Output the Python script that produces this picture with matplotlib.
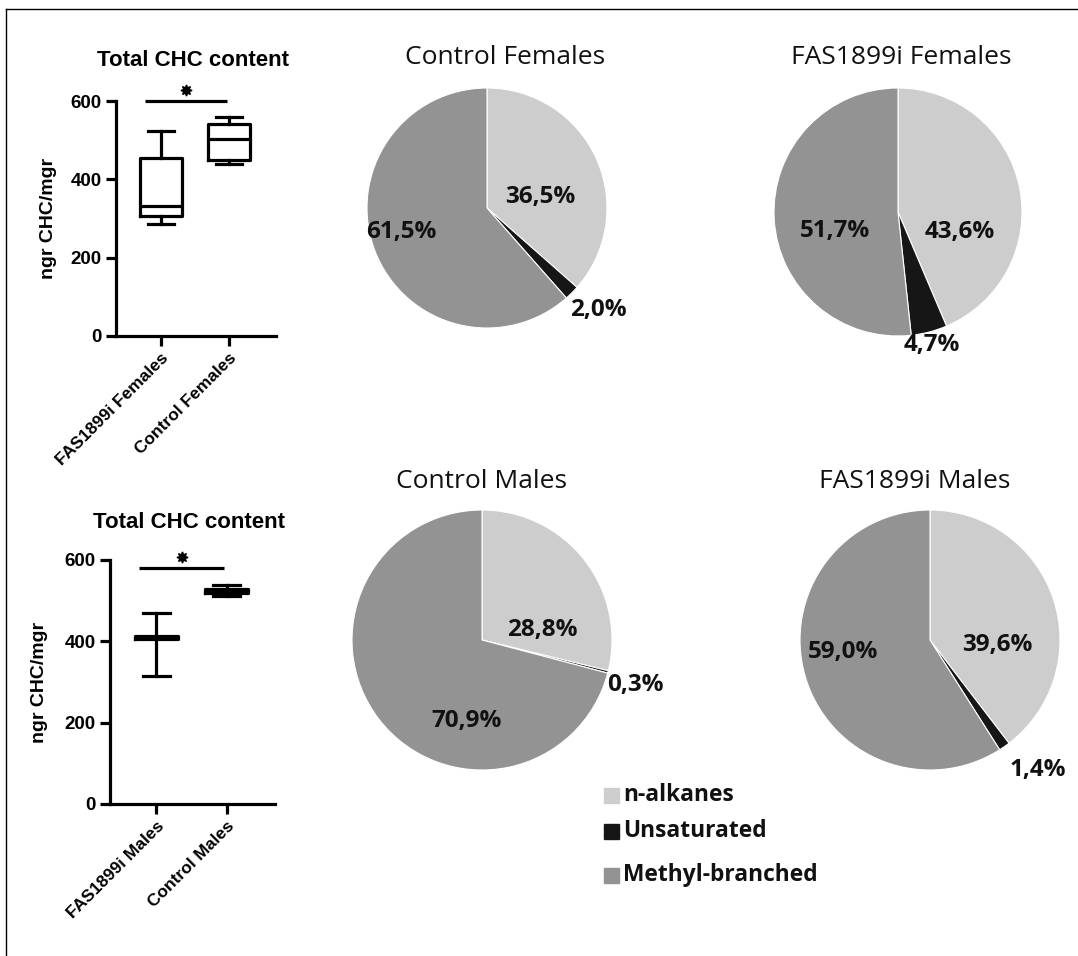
import matplotlib
matplotlib.use("Agg")
import matplotlib.pyplot as plt
from matplotlib.lines import Line2D
from matplotlib.patches import Rectangle

# ---- data ----
classes = ["n-alkanes", "Unsaturated", "Methyl-branched"]
class_colors = ["#cdcdcd", "#161616", "#939393"]

pie_titles = ["Control Females", "FAS1899i Females", "Control Males", "FAS1899i Males"]
ctrl_females = [36.5, 2.0, 61.5]
fas_females = [43.6, 4.7, 51.7]
ctrl_males = [28.8, 0.3, 70.9]
fas_males = [39.6, 1.4, 59.0]

box_groups_f = ["FAS1899i Females", "Control Females"]
box_groups_m = ["FAS1899i Males", "Control Males"]
# whislo, q1, med, q3, whishi
box_f = [[286, 306, 331, 455, 524], [440, 450, 502, 542, 559]]
box_m = [[315, 405, 410, 414, 470], [512, 519, 524, 528, 538]]
sig_f = 600
sig_m = 580
yticks = [0, 200, 400, 600]

W, H = 1078, 956
fig = plt.figure(figsize=(W / 100, H / 100), dpi=100)


def px_axes(cx0, cy0, w, h):
    # pixel box (left, top, width, height) -> figure axes
    return fig.add_axes([cx0 / W, 1 - (cy0 + h) / H, w / W, h / H])


# ---- pies ----
pie_font = "Open Sans"
pie_data = [ctrl_females, fas_females, ctrl_males, fas_males]
centers = [(487, 208, 120), (898, 212, 124), (482, 640, 130), (930, 640, 130)]
title_pos = [(505, 57), (901, 57), (481, 482), (915, 482)]
# label offsets in radius units (n-alkanes, unsaturated, methyl)
label_off = [
    [(0.44, 0.09), (0.93, -0.85), (-0.71, -0.20)],
    [(0.50, -0.16), (0.27, -1.07), (-0.51, -0.15)],
    [(0.46, 0.08), (1.18, -0.35), (-0.12, -0.62)],
    [(0.52, -0.04), (0.83, -1.00), (-0.67, -0.09)],
]

for vals, (cx, cy, r), title, tp, offs in zip(pie_data, centers, pie_titles, title_pos, label_off):
    ax = px_axes(cx - r, cy - r, 2 * r, 2 * r)
    ax.pie(vals, colors=class_colors, startangle=90, counterclock=False,
           wedgeprops=dict(edgecolor="white", linewidth=0.8), radius=1)
    ax.set_xlim(-1, 1)
    ax.set_ylim(-1, 1)
    ax.set_aspect("equal")
    ax.axis("off")
    for v, (dx, dy) in zip(vals, offs):
        ax.text(dx, dy, f"{v:.1f}%".replace(".", ","), ha="center", va="center",
                fontsize=17.5, fontweight="bold", family=pie_font, color="#111111",
                clip_on=False)
    fig.text(tp[0] / W, 1 - tp[1] / H, title, ha="center", va="center",
             fontsize=19, family=pie_font, color="#111111")

# ---- legend ----
leg_y = [795, 831, 875]
for lab, col, ly in zip(classes, class_colors, leg_y):
    fig.add_artist(Rectangle((604 / W, 1 - (ly + 8) / H), 15 / W, 15 / H,
                             transform=fig.transFigure, color=col))
    fig.text(623 / W, 1 - ly / H, lab, ha="left", va="center", fontsize=16.4,
             fontweight="bold", family=pie_font, color="#111111")


# ---- box plots ----
def box_panel(rect, stats, groups, sig, title_xy, ylab_x):
    ax = px_axes(*rect)
    bxp_stats = []
    for g, s in zip(groups, stats):
        bxp_stats.append(dict(label=g, whislo=s[0], q1=s[1], med=s[2], q3=s[3],
                              whishi=s[4], fliers=[]))
    lw = 2.3
    ax.bxp(bxp_stats, positions=[1, 2], widths=0.62, capwidths=0.38,
           showfliers=False,
           boxprops=dict(linewidth=lw, color="black"),
           whiskerprops=dict(linewidth=lw, color="black"),
           capprops=dict(linewidth=lw, color="black"),
           medianprops=dict(linewidth=lw, color="black"))
    ax.set_xlim(0.34, 2.69)
    ax.set_ylim(0, 600)
    ax.set_yticks(yticks)
    ax.spines[["top", "right"]].set_visible(False)
    for sp in ["left", "bottom"]:
        ax.spines[sp].set_linewidth(2.3)
    ax.tick_params(axis="both", width=2.3, length=7, labelsize=13.5)
    for t in ax.get_yticklabels():
        t.set_fontweight("bold")
        t.set_family("Liberation Sans")
    ax.set_xticks([1, 2])
    ax.set_xticklabels(groups, rotation=45, ha="right", rotation_mode="anchor",
                       fontsize=12.5, fontweight="bold", family="Liberation Sans")
    ax.set_ylabel("ngr CHC/mgr", fontsize=14, fontweight="bold", family="Liberation Sans")
    ax.yaxis.set_label_coords((ylab_x - rect[0]) / rect[2], 0.5)
    # significance bar
    x0, x1 = 1 - 0.24, 2 - 0.03
    ax.plot([x0, x1], [sig, sig], color="black", lw=2.3, clip_on=False,
            solid_capstyle="butt")
    ax.plot([(x0 + x1) / 2], [sig + 28], marker=(8, 1, 0), markersize=8, color="black",
            clip_on=False)
    fig.text(title_xy[0] / W, 1 - title_xy[1] / H, "Total CHC content", ha="center",
             va="center", fontsize=16, fontweight="bold", family="Liberation Sans")
    return ax


box_panel((116, 101, 160, 235), box_f, box_groups_f, sig_f, (193, 60), 57)
box_panel((110, 560, 165, 244), box_m, box_groups_m, sig_m, (189, 522), 48)

# ---- frame lines (top and left only) ----
fig.add_artist(Line2D([6 / W, 1], [1 - 9 / H, 1 - 9 / H], transform=fig.transFigure,
                      color="black", lw=1))
fig.add_artist(Line2D([6 / W, 6 / W], [0, 1 - 9 / H], transform=fig.transFigure,
                      color="black", lw=1))

fig.savefig("out.png", dpi=100, facecolor="white")
